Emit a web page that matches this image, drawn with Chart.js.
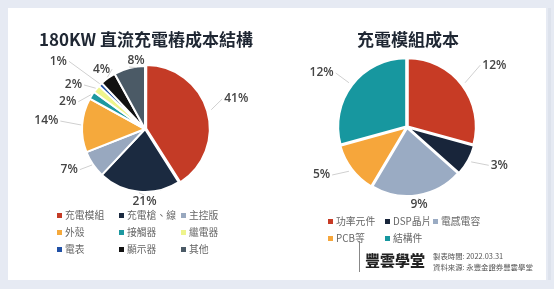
<!DOCTYPE html>
<html lang="zh-Hant">
<head>
<meta charset="UTF-8">
<title>充電樁成本結構</title>
<script src="https://cdn.jsdelivr.net/npm/chart.js"></script>
<style>
  html, body { margin: 0; padding: 0; }
  body { width: 554px; height: 289px; background: #e6eaf3; position: relative; overflow: hidden;
         font-family: "Noto Sans CJK TC", "Noto Sans", sans-serif; }
  .card { position: absolute; left: 8px; top: 8px; width: 538px; height: 272px; background: #fff; }
  .strip { position: absolute; left: 548px; top: 8px; width: 3px; height: 272px; background: #dde2ec; }
  canvas { position: absolute; top: 0; }
  .title { position: absolute; top: 27px; font-weight: 700; font-size: 17px; color: #1f2733;
           white-space: nowrap; text-align: center; line-height: 24px; }
  .legend { position: absolute; display: grid; row-gap: 0; font-size: 9.8px; color: #666; }
  .legend div { height: 17px; line-height: 17px; white-space: nowrap; }
  .legend i { display: inline-block; width: 5px; height: 5px; margin-right: 3px; vertical-align: 1px; }
  .brand { position: absolute; left: 359px; top: 241px; width: 1px; height: 31px; background: #888; }
  .brandname { position: absolute; left: 365px; top: 250px; font-size: 15px; font-weight: 900; color: #222;
               letter-spacing: 0px; line-height: 20px; }
  .note { position: absolute; left: 433px; font-size: 7.4px; color: #555; line-height: 10px; white-space: nowrap; }
</style>
</head>
<body>
<div class="card"></div>
<div class="strip"></div>
<canvas id="leftPie" width="277" height="215" style="left:0"></canvas>
<canvas id="rightPie" width="277" height="215" style="left:277px"></canvas>
<div class="title" style="left:35px;width:222px">180KW 直流充電樁成本結構</div>
<div class="title" style="left:357px;width:102px">充電模組成本</div>
<div id="leftLegend" class="legend" style="left:57px;top:207px;grid-template-columns:62px 62px auto"></div>
<div id="rightLegend" class="legend" style="left:328px;top:213px;grid-template-columns:57px 48px auto"></div>
<div class="brand"></div>
<div class="brandname">豐雲學堂</div>
<div class="note" style="top:251px">製表時間: 2022.03.31</div>
<div class="note" style="top:262px">資料來源: 永豐金證券豐雲學堂</div>

<script>
// left pie: 180KW charger cost structure (%)
const stationParts = ['充電模組', '充電槍、線', '主控版', '外殼', '接觸器', '繼電器', '電表', '顯示器', '其他'];
const stationShare = [41, 21, 7, 14, 2, 2, 1, 4, 8];
const stationColors = ['#c43b26', '#1b2a40', '#98a8bf', '#f5a93c', '#1c98a0', '#eef48c', '#2050a5', '#111111', '#4b5a66'];

// right pie: charging module cost (% of total)
const moduleParts = ['功率元件', 'DSP晶片', '電感電容', 'PCB等', '結構件'];
const moduleShare = [12, 3, 9, 5, 12];
const moduleColors = ['#c73b25', '#18253a', '#9aabc3', '#f6a63b', '#17979f'];

// label placement tweaks (degrees off the slice middle, distance from centre)
const stationLabelShift = [-2, -5, 6, 1, -13, -8, -7, 0, 7];
const stationLabelDist = [96, 73, 86, 99, 82, 84, 110, 74, 69];
const moduleLabelShift = [2, -6, 0, 8, -5];
const moduleLabelDist = [107, 100, 79, 98, 101];

// outside labels with leader lines
const outsideLabels = {
  id: 'outsideLabels',
  afterDraw(chart, args, opts) {
    const ctx = chart.ctx;
    const meta = chart.getDatasetMeta(0);
    const values = chart.data.datasets[0].data;
    ctx.save();
    ctx.font = '600 12px "Open Sans", "Noto Sans", sans-serif';
    ctx.textAlign = 'center';
    ctx.textBaseline = 'middle';
    meta.data.forEach((arc, i) => {
      const p = arc.getProps(['x', 'y', 'startAngle', 'endAngle', 'outerRadius'], true);
      const mid = (p.startAngle + p.endAngle) / 2;
      const ang = mid + opts.shift[i] * Math.PI / 180;
      const d = opts.dist[i];
      const lx = p.x + Math.cos(ang) * d;
      const ly = p.y + Math.sin(ang) * d;
      const text = values[i] + '%';
      const w = ctx.measureText(text).width;
      // leader line
      const off = (chart.data.datasets[0].offset[i] || 0);
      const r0 = p.outerRadius + off + 1;
      const sx = p.x + Math.cos(mid) * r0;
      const sy = p.y + Math.sin(mid) * r0;
      let ex, ey;
      if (Math.abs(Math.cos(ang)) > 0.45) {
        ex = lx + (lx < p.x ? w / 2 + 2 : -w / 2 - 2);
        ey = ly;
      } else {
        ex = lx;
        ey = ly + (ly < p.y ? 7 : -7);
      }
      ctx.strokeStyle = '#d0d0d0';
      ctx.lineWidth = 1;
      ctx.beginPath();
      ctx.moveTo(sx, sy);
      ctx.lineTo(ex, ey);
      ctx.stroke();
      ctx.fillStyle = '#444';
      ctx.fillText(text, lx, ly);
    });
    ctx.restore();
  }
};

function makePie(id, labels, values, colors, offsets, radius, padding, shift, dist) {
  return new Chart(document.getElementById(id), {
    type: 'pie',
    data: {
      labels: labels,
      datasets: [{
        data: values,
        backgroundColor: colors,
        borderColor: '#ffffff',
        borderWidth: 2,
        offset: offsets
      }]
    },
    options: {
      responsive: false,
      animation: false,
      radius: radius,
      layout: { padding: padding },
      plugins: {
        legend: { display: false },
        tooltip: { enabled: false },
        outsideLabels: { shift: shift, dist: dist }
      }
    },
    plugins: [outsideLabels]
  });
}

makePie('leftPie', stationParts, stationShare, stationColors,
  [5, 0, 0, 0, 0, 0, 0, 0, 0], 63,
  { left: 65, right: 52, top: 49, bottom: 6 },
  stationLabelShift, stationLabelDist);

makePie('rightPie', moduleParts, moduleShare, moduleColors,
  [4, 4, 4, 4, 4], 68,
  { left: 50, right: 67, top: 47, bottom: 8 },
  moduleLabelShift, moduleLabelDist);

// html legends
function buildLegend(id, labels, colors) {
  const box = document.getElementById(id);
  labels.forEach((name, i) => {
    const item = document.createElement('div');
    item.innerHTML = `<i style="background:${colors[i]}"></i>${name}`;
    box.appendChild(item);
  });
}
buildLegend('leftLegend', stationParts, stationColors);
buildLegend('rightLegend', moduleParts, moduleColors);
</script>
</body>
</html>
